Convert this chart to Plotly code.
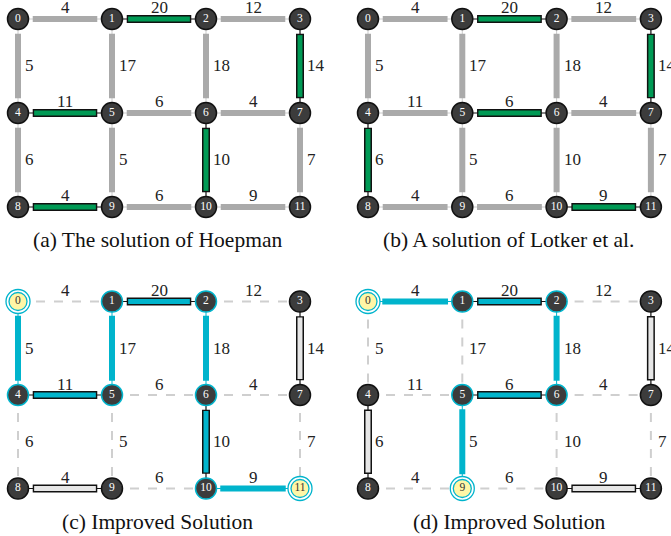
import plotly.graph_objects as go

W, H = 671, 536
FONT = "Liberation Serif"

# ---- graph data ----
node_ids = list(range(12))
grid_cols = 4
edge_u = [0, 1, 2, 4, 5, 6, 8, 9, 10, 0, 1, 2, 3, 4, 5, 6, 7]
edge_v = [1, 2, 3, 5, 6, 7, 9, 10, 11, 4, 5, 6, 7, 8, 9, 10, 11]
edge_w = [4, 20, 12, 11, 6, 4, 4, 6, 9, 5, 17, 18, 14, 6, 5, 10, 7]

captions = ["(a) The solution of Hoepman", "(b) A solution of Lotker et al.",
            "(c) Improved Solution", "(d) Improved Solution"]

# per panel: matched edges, augmenting/path edges, highlighted nodes, free nodes
a_matched = [(1, 2), (3, 7), (4, 5), (6, 10), (8, 9)]
b_matched = [(1, 2), (3, 7), (5, 6), (4, 8), (10, 11)]
c_matched = [(1, 2), (4, 5), (6, 10)]
c_white = [(3, 7), (8, 9)]
c_path = [(0, 4), (1, 5), (2, 6), (10, 11)]
c_ring = [1, 2, 4, 5, 6, 10]
c_free = [0, 11]
d_matched = [(1, 2), (5, 6)]
d_white = [(3, 7), (4, 8), (10, 11)]
d_path = [(0, 1), (2, 6), (5, 9)]
d_ring = [1, 2, 5, 6]
d_free = [0, 9]

GREEN = "#009a55"
CYAN = "#00b4cc"
GRAY = "#aaaaaa"
DASH = "#cfcfcf"
NODE = "#3c3c3c"
YELLOW = "#fff6a6"

panels = [
    dict(x0=18, y0=19, sx=94, sy=94, style="solid", matched=a_matched, mcol=GREEN,
         white=[], path=[], ring=[], free=[], cap=(157, 240)),
    dict(x0=368, y0=19, sx=94.3, sy=94, style="solid", matched=b_matched, mcol=GREEN,
         white=[], path=[], ring=[], free=[], cap=(508, 240)),
    dict(x0=18, y0=301.5, sx=94, sy=93.5, style="dash", matched=c_matched, mcol=CYAN,
         white=c_white, path=c_path, ring=c_ring, free=c_free, cap=(157, 522)),
    dict(x0=368, y0=301.5, sx=94.3, sy=93.5, style="dash", matched=d_matched, mcol=CYAN,
         white=d_white, path=d_path, ring=d_ring, free=d_free, cap=(510, 522)),
]

def pos(n):
    return n % grid_cols, n // grid_cols

def key(u, v):
    return (min(u, v), max(u, v))

fig = go.Figure()
layout = dict(width=W, height=H, margin=dict(l=0, r=0, t=0, b=0),
              paper_bgcolor="white", plot_bgcolor="rgba(0,0,0,0)", showlegend=False,
              annotations=[])
m = 0.15

def seg(u, v, g1, g2=None):
    if g2 is None:
        g2 = g1
    x1, y1 = pos(u)
    x2, y2 = pos(v)
    dx, dy = x2 - x1, y2 - y1
    L = (dx * dx + dy * dy) ** 0.5
    dx, dy = dx / L, dy / L
    return [x1 + dx * g1, x2 - dx * g2], [y1 + dy * g1, y2 - dy * g2]

for i, p in enumerate(panels):
    sfx = "" if i == 0 else str(i + 1)
    xr, yr = "x" + sfx, "y" + sfx
    left = p["x0"] - m * p["sx"]
    right = p["x0"] + (3 + m) * p["sx"]
    top = p["y0"] - m * p["sy"]
    bottom = p["y0"] + (2 + m) * p["sy"]
    layout["xaxis" + sfx] = dict(domain=[left / W, right / W], range=[-m, 3 + m],
                                 visible=False, fixedrange=True, anchor=yr)
    layout["yaxis" + sfx] = dict(domain=[1 - bottom / H, 1 - top / H], range=[2 + m, -m],
                                 visible=False, fixedrange=True, anchor=xr)
    matched = {key(*e) for e in p["matched"]}
    white = {key(*e) for e in p["white"]}
    path = {key(*e) for e in p["path"]}
    rad = 10.5 / p["sx"]

    def line(xs, ys, color, width, dash="solid"):
        fig.add_trace(go.Scatter(x=xs, y=ys, mode="lines", xaxis=xr, yaxis=yr,
                                 line=dict(color=color, width=width, dash=dash),
                                 hoverinfo="skip", cliponaxis=False))

    for u, v, w in zip(edge_u, edge_v, edge_w):
        k = key(u, v)
        if k in matched or k in white:
            fill = p["mcol"] if k in matched else "#e6e6e6"
            xs, ys = seg(u, v, 0)
            line(xs, ys, "#111111", 1.2)
            xs, ys = seg(u, v, rad + 0.045)
            line(xs, ys, "#111111", 8)
            xs, ys = seg(u, v, rad + 0.06)
            line(xs, ys, fill, 5)
        elif k in path:
            xs, ys = seg(u, v, 0)
            line(xs, ys, CYAN, 1)
            xs, ys = seg(u, v, rad + 0.04)
            line(xs, ys, CYAN, 6)
        elif p["style"] == "solid":
            xs, ys = seg(u, v, 0)
            line(xs, ys, "#cccccc", 1)
            xs, ys = seg(u, v, rad + 0.045)
            line(xs, ys, GRAY, 6)
        else:
            xs, ys = seg(u, v, 0)
            line(xs, ys, DASH, 2, "dash")
        # weight label
        x1, y1 = pos(u)
        x2, y2 = pos(v)
        if y1 == y2:
            layout["annotations"].append(dict(
                x=(x1 + x2) / 2, y=y1, xref=xr, yref=yr, text=str(w), showarrow=False,
                xanchor="center", yanchor="middle", yshift=11,
                font=dict(family=FONT, size=17, color="#222222")))
        else:
            layout["annotations"].append(dict(
                x=x1, y=(y1 + y2) / 2, xref=xr, yref=yr, text=str(w), showarrow=False,
                xanchor="left", yanchor="middle", xshift=5,
                font=dict(family=FONT, size=17, color="#222222")))

    # nodes
    normal = [n for n in node_ids if n not in p["free"]]
    xs = [pos(n)[0] for n in normal]
    ys = [pos(n)[1] for n in normal]
    lc = [CYAN if n in p["ring"] else "#111111" for n in normal]
    fig.add_trace(go.Scatter(x=xs, y=ys, mode="markers+text", xaxis=xr, yaxis=yr,
                             marker=dict(size=21, color=NODE, line=dict(color=lc, width=1.5)),
                             text=[str(n) for n in normal], textposition="middle center",
                             textfont=dict(family=FONT, size=11.5, color="white"),
                             hoverinfo="skip", cliponaxis=False))
    if p["free"]:
        fx = [pos(n)[0] for n in p["free"]]
        fy = [pos(n)[1] for n in p["free"]]
        fig.add_trace(go.Scatter(x=fx, y=fy, mode="markers", xaxis=xr, yaxis=yr,
                                 marker=dict(size=24, color="white", line=dict(color=CYAN, width=1.3)),
                                 hoverinfo="skip", cliponaxis=False))
        fig.add_trace(go.Scatter(x=fx, y=fy, mode="markers+text", xaxis=xr, yaxis=yr,
                                 marker=dict(size=18, color=YELLOW, line=dict(color=CYAN, width=1.3)),
                                 text=[str(n) for n in p["free"]], textposition="middle center",
                                 textfont=dict(family=FONT, size=11.5, color="#333333"),
                                 hoverinfo="skip", cliponaxis=False))
    cx, cy = p["cap"]
    layout["annotations"].append(dict(
        x=cx / W, y=1 - cy / H, xref="paper", yref="paper", text=captions[i], showarrow=False,
        xanchor="center", yanchor="middle", font=dict(family=FONT, size=21.5, color="#111111")))

fig.update_layout(**layout)
fig.write_html("out.html", config={"displayModeBar": False},
               post_script="document.body.style.margin='0';")
